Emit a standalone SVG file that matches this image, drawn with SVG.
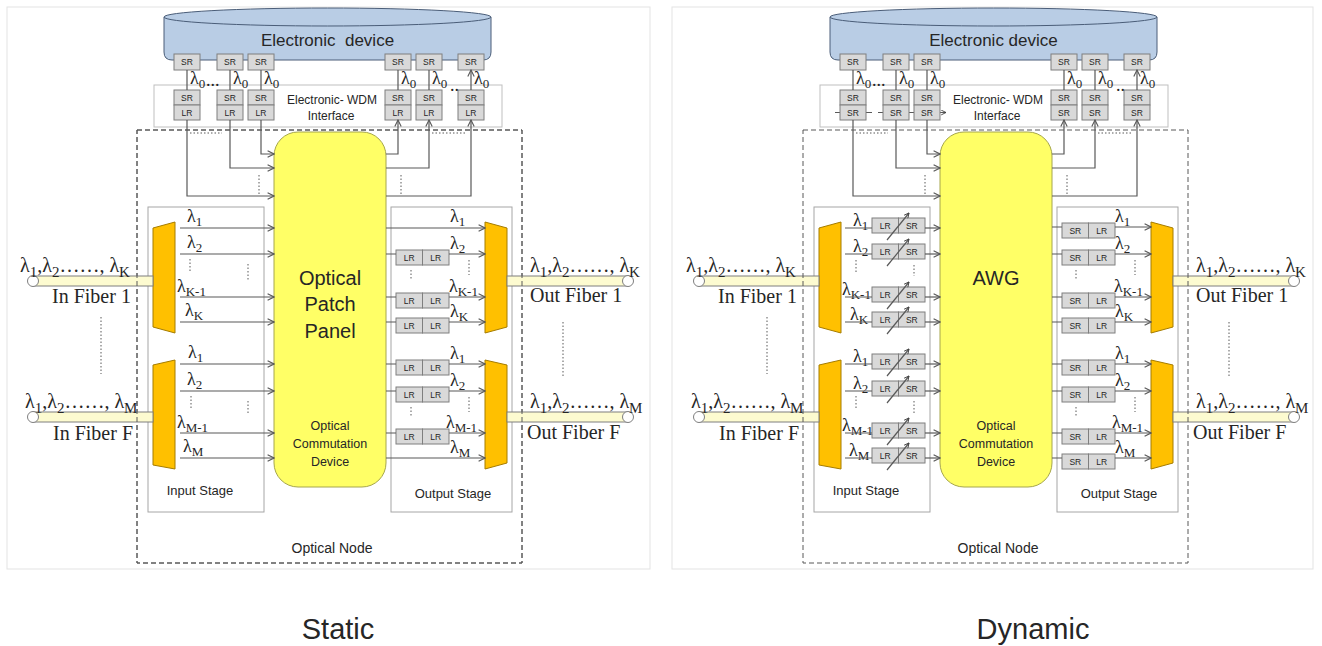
<svg xmlns="http://www.w3.org/2000/svg" width="1322" height="646" viewBox="0 0 1322 646">
<style>
.ln{stroke:#595959;stroke-width:1.2;fill:none}
.ar{marker-end:url(#ah)}
.ar2{marker-end:url(#ah2)}
.dot{stroke:#595959;stroke-width:1;stroke-dasharray:1.5 2;fill:none}
.box{fill:#d9d9d9;stroke:#7f7f7f;stroke-width:1}
.bt{font-family:"Liberation Sans",Arial,sans-serif;font-size:8.5px;fill:#262626;text-anchor:middle}
.sans{font-family:"Liberation Sans",Arial,sans-serif;fill:#262626;text-anchor:middle}
.fl{font-family:"Liberation Serif","Times New Roman",serif;font-size:20px;fill:#262626}
.fs{font-size:15px}
.lam{font-family:"Liberation Serif","Times New Roman",serif;font-size:18px;fill:#262626}
.s{font-size:13px}
.mux{fill:#ffc000;stroke:#a57c00;stroke-width:1}
.fiber{fill:#fdfbd0;stroke:#7f7f7f;stroke-width:1}
.fend{fill:#fff;stroke:#7f7f7f;stroke-width:1}
.stage{fill:none;stroke:#a6a6a6;stroke-width:1}
.frame{fill:#fff;stroke:#e3e3e3;stroke-width:1}
.cyl{fill:#b9cde5;stroke:#4a5d78;stroke-width:1}
.panel{fill:#ffff66;stroke:#a6a64d;stroke-width:1}
.node{fill:none;stroke:#595959;stroke-width:1;stroke-dasharray:5 3}
.ifc{fill:#fff;stroke:#bfbfbf;stroke-width:1}
</style>
<defs>
<marker id="ah" viewBox="0 0 10 10" refX="9" refY="5" markerWidth="8" markerHeight="8" markerUnits="userSpaceOnUse" orient="auto"><path d="M1,1 L9,5 L1,9" fill="none" stroke="#595959" stroke-width="1.4"/></marker>
<marker id="ah2" viewBox="0 0 10 10" refX="9" refY="5" markerWidth="6" markerHeight="6" markerUnits="userSpaceOnUse" orient="auto"><path d="M1,1 L9,5 L1,9" fill="none" stroke="#404040" stroke-width="1.5"/></marker>
</defs>
<rect width="1322" height="646" fill="#fff"/>

<!-- ================= STATIC ================= -->
<g id="static">
<rect class="frame" x="7" y="7" width="643" height="562"/>

<g id="s-electronic-device">
<path class="cyl" d="M164,17 V52 Q164,60 172,60 H483 Q491,60 491,52 V17 Z"/>
<ellipse class="cyl" cx="327.5" cy="17" rx="163.5" ry="9"/>
<text class="sans" x="327.5" y="46" font-size="17" xml:space="preserve">Electronic  device</text>
<rect class="box" x="174" y="54" width="26" height="16"/><text class="bt" x="187" y="65">SR</text>
<rect class="box" x="217" y="54" width="26" height="16"/><text class="bt" x="230" y="65">SR</text>
<rect class="box" x="248" y="54" width="26" height="16"/><text class="bt" x="261" y="65">SR</text>
<rect class="box" x="385" y="54" width="26" height="16"/><text class="bt" x="398" y="65">SR</text>
<rect class="box" x="416" y="54" width="26" height="16"/><text class="bt" x="429" y="65">SR</text>
<rect class="box" x="458" y="54" width="26" height="16"/><text class="bt" x="471" y="65">SR</text>
</g>

<g id="s-interface">
<rect class="ifc" x="154" y="85" width="348" height="42"/>
<text class="sans" x="332" y="104" font-size="12">Electronic- WDM</text>
<text class="sans" x="331" y="120" font-size="12">Interface</text>
<rect class="box" x="174" y="90" width="26" height="15"/><text class="bt" x="187" y="100.5">SR</text>
<rect class="box" x="174" y="105" width="26" height="15"/><text class="bt" x="187" y="115.5">LR</text>
<rect class="box" x="217" y="90" width="26" height="15"/><text class="bt" x="230" y="100.5">SR</text>
<rect class="box" x="217" y="105" width="26" height="15"/><text class="bt" x="230" y="115.5">LR</text>
<rect class="box" x="248" y="90" width="26" height="15"/><text class="bt" x="261" y="100.5">SR</text>
<rect class="box" x="248" y="105" width="26" height="15"/><text class="bt" x="261" y="115.5">LR</text>
<rect class="box" x="385" y="90" width="26" height="15"/><text class="bt" x="398" y="100.5">SR</text>
<rect class="box" x="385" y="105" width="26" height="15"/><text class="bt" x="398" y="115.5">LR</text>
<rect class="box" x="416" y="90" width="26" height="15"/><text class="bt" x="429" y="100.5">SR</text>
<rect class="box" x="416" y="105" width="26" height="15"/><text class="bt" x="429" y="115.5">LR</text>
<rect class="box" x="458" y="90" width="26" height="15"/><text class="bt" x="471" y="100.5">SR</text>
<rect class="box" x="458" y="105" width="26" height="15"/><text class="bt" x="471" y="115.5">LR</text>
<text class="lam" x="206" y="86" font-size="12">...</text>
<text class="lam" x="450" y="91" font-size="11">..</text>
</g>

<g id="s-optical-node">
<rect class="node" x="137" y="130" width="385" height="433"/>
<text class="sans" x="332" y="553" font-size="14">Optical Node</text>
<path class="dot" d="M190,133 H222 M432,133 H465"/>
</g>

<g id="s-patch-panel">
<rect class="panel" x="274" y="132" width="112" height="355" rx="24"/>
<text class="sans" x="330" y="285" font-size="20">Optical</text>
<text class="sans" x="330" y="311" font-size="20">Patch</text>
<text class="sans" x="330" y="338" font-size="20">Panel</text>
<text class="sans" x="330" y="430" font-size="12.5">Optical</text>
<text class="sans" x="330" y="448" font-size="12.5">Commutation</text>
<text class="sans" x="330" y="466" font-size="12.5">Device</text>
</g>

<g id="s-input-stage">
<rect class="stage" x="148" y="207" width="116" height="305"/>
<polygon class="mux" points="153,228 175,222 175,333 153,327"/>
<polygon class="mux" points="153,365 175,360 175,469 153,465"/>
<text class="sans" x="200" y="495" font-size="13">Input Stage</text>
<path class="dot" d="M190,259 V271 M248,264 V280 M191,396 V408 M248,401 V413"/>
<text class="lam" x="187" y="222">λ<tspan class="s" dy="4">1</tspan></text>
<text class="lam" x="187" y="248">λ<tspan class="s" dy="4">2</tspan></text>
<text class="lam" x="177" y="292">λ<tspan class="s" dy="4">K-1</tspan></text>
<text class="lam" x="185" y="316">λ<tspan class="s" dy="4">K</tspan></text>
<text class="lam" x="188" y="358">λ<tspan class="s" dy="4">1</tspan></text>
<text class="lam" x="187" y="385">λ<tspan class="s" dy="4">2</tspan></text>
<text class="lam" x="177" y="428">λ<tspan class="s" dy="4">M-1</tspan></text>
<text class="lam" x="183" y="452">λ<tspan class="s" dy="4">M</tspan></text>
</g>

<g id="s-output-stage">
<rect class="stage" x="391" y="207" width="121" height="305"/>
<polygon class="mux" points="485,222 507,228 507,327 485,333"/>
<polygon class="mux" points="485,360 507,365 507,463 485,469"/>
<text class="sans" x="453" y="498" font-size="13">Output Stage</text>
<path class="dot" d="M411,270 V280 M469,260 V275 M411,407 V417 M469,397 V412"/>
<rect class="box" x="396" y="250" width="26.5" height="15"/><text class="bt" x="409.3" y="261">LR</text>
<rect class="box" x="422.5" y="250" width="26.5" height="15"/><text class="bt" x="435.8" y="261">LR</text>
<rect class="box" x="396" y="293" width="26.5" height="15"/><text class="bt" x="409.3" y="304">LR</text>
<rect class="box" x="422.5" y="293" width="26.5" height="15"/><text class="bt" x="435.8" y="304">LR</text>
<rect class="box" x="396" y="318" width="26.5" height="15"/><text class="bt" x="409.3" y="329">LR</text>
<rect class="box" x="422.5" y="318" width="26.5" height="15"/><text class="bt" x="435.8" y="329">LR</text>
<rect class="box" x="396" y="360" width="26.5" height="15"/><text class="bt" x="409.3" y="371">LR</text>
<rect class="box" x="422.5" y="360" width="26.5" height="15"/><text class="bt" x="435.8" y="371">LR</text>
<rect class="box" x="396" y="387" width="26.5" height="15"/><text class="bt" x="409.3" y="398">LR</text>
<rect class="box" x="422.5" y="387" width="26.5" height="15"/><text class="bt" x="435.8" y="398">LR</text>
<rect class="box" x="396" y="429" width="26.5" height="15"/><text class="bt" x="409.3" y="440">LR</text>
<rect class="box" x="422.5" y="429" width="26.5" height="15"/><text class="bt" x="435.8" y="440">LR</text>
<text class="lam" x="450" y="222">λ<tspan class="s" dy="4">1</tspan></text>
<text class="lam" x="450" y="249">λ<tspan class="s" dy="4">2</tspan></text>
<text class="lam" x="449" y="292">λ<tspan class="s" dy="4">K-1</tspan></text>
<text class="lam" x="450" y="317">λ<tspan class="s" dy="4">K</tspan></text>
<text class="lam" x="450" y="359">λ<tspan class="s" dy="4">1</tspan></text>
<text class="lam" x="450" y="386">λ<tspan class="s" dy="4">2</tspan></text>
<text class="lam" x="446" y="428">λ<tspan class="s" dy="4">M-1</tspan></text>
<text class="lam" x="450" y="453">λ<tspan class="s" dy="4">M</tspan></text>
</g>

<g id="s-in-fiber-1">
<rect class="fiber" x="33" y="276" width="120" height="10"/>
<circle class="fend" cx="33" cy="281" r="5.5"/>
<text class="fl" x="20" y="272">λ<tspan class="fs" dy="5">1</tspan><tspan dy="-5">,λ</tspan><tspan class="fs" dy="5">2</tspan><tspan dy="-5">……, λ</tspan><tspan class="fs" dy="5">K</tspan></text>
<text class="fl" x="52" y="303" font-size="19">In Fiber 1</text>
</g>
<g id="s-in-fiber-f">
<rect class="fiber" x="33" y="412" width="120" height="10"/>
<circle class="fend" cx="33" cy="417" r="5.5"/>
<text class="fl" x="25" y="408">λ<tspan class="fs" dy="5">1</tspan><tspan dy="-5">,λ</tspan><tspan class="fs" dy="5">2</tspan><tspan dy="-5">……, λ</tspan><tspan class="fs" dy="5">M</tspan></text>
<text class="fl" x="53" y="440" font-size="19">In Fiber F</text>
</g>
<g id="s-out-fiber-1">
<rect class="fiber" x="507" y="276" width="121" height="10"/>
<circle class="fend" cx="628" cy="281" r="5.5"/>
<text class="fl" x="530" y="272">λ<tspan class="fs" dy="5">1</tspan><tspan dy="-5">,λ</tspan><tspan class="fs" dy="5">2</tspan><tspan dy="-5">……, λ</tspan><tspan class="fs" dy="5">K</tspan></text>
<text class="fl" x="530" y="302" font-size="19">Out Fiber 1</text>
</g>
<g id="s-out-fiber-f">
<rect class="fiber" x="507" y="412" width="121" height="10"/>
<circle class="fend" cx="628" cy="417" r="5.5"/>
<text class="fl" x="530" y="408">λ<tspan class="fs" dy="5">1</tspan><tspan dy="-5">,λ</tspan><tspan class="fs" dy="5">2</tspan><tspan dy="-5">……, λ</tspan><tspan class="fs" dy="5">M</tspan></text>
<text class="fl" x="527" y="439" font-size="19">Out Fiber F</text>
</g>
<path class="dot" d="M101,317 V374 M563,322 V378"/>
<rect class="node" x="137" y="130" width="385" height="433" style="fill:none"/>

<g id="s-connectors">
<path class="ln" d="M187,70 V90 M230,70 V90 M261,70 V90"/>
<path class="ln ar" d="M398,90 V70 M429,90 V70 M471,90 V70"/>
<text class="lam" x="190" y="84">λ<tspan class="s" dy="4">0</tspan></text>
<text class="lam" x="233" y="84">λ<tspan class="s" dy="4">0</tspan></text>
<text class="lam" x="264" y="84">λ<tspan class="s" dy="4">0</tspan></text>
<text class="lam" x="401" y="84">λ<tspan class="s" dy="4">0</tspan></text>
<text class="lam" x="432" y="84">λ<tspan class="s" dy="4">0</tspan></text>
<text class="lam" x="474" y="84">λ<tspan class="s" dy="4">0</tspan></text>
<path class="ln ar" d="M187,120 V196 H274"/>
<path class="ln ar" d="M230,120 V168 H274"/>
<path class="ln ar" d="M261,120 V154 H274"/>
<path class="ln ar" d="M386,154 H398 V120"/>
<path class="ln ar" d="M386,168 H429 V120"/>
<path class="ln ar" d="M386,196 H471 V120"/>
<path class="dot" d="M259,175 V195 M401,175 V195"/>
<path class="ln ar" d="M180,228 H274"/>
<path class="ln ar" d="M180,254 H274"/>
<path class="ln ar" d="M180,297 H274"/>
<path class="ln ar" d="M180,322 H274"/>
<path class="ln ar" d="M180,364 H274"/>
<path class="ln ar" d="M180,391 H274"/>
<path class="ln ar" d="M180,433 H274"/>
<path class="ln ar" d="M180,458 H274"/>
<path class="ln ar" d="M386,228 H485"/>
<path class="ln" d="M386,254 H396 M386,297 H396 M386,322 H396 M386,364 H396 M386,391 H396 M386,433 H396"/>
<path class="ln ar" d="M449,254 H485"/>
<path class="ln ar" d="M449,297 H485"/>
<path class="ln ar" d="M449,322 H485"/>
<path class="ln ar" d="M449,364 H485"/>
<path class="ln ar" d="M449,391 H485"/>
<path class="ln ar" d="M449,433 H485"/>
<path class="ln ar" d="M386,458 H485"/>
</g>
</g>

<!-- ================= DYNAMIC ================= -->
<g id="dynamic" transform="translate(666,0)">
<rect class="frame" x="6" y="7" width="641" height="562"/>

<g id="d-electronic-device">
<path class="cyl" d="M164,17 V52 Q164,60 172,60 H483 Q491,60 491,52 V17 Z"/>
<ellipse class="cyl" cx="327.5" cy="17" rx="163.5" ry="9"/>
<text class="sans" x="327.5" y="46" font-size="17">Electronic device</text>
<rect class="box" x="174" y="54" width="26" height="16"/><text class="bt" x="187" y="65">SR</text>
<rect class="box" x="217" y="54" width="26" height="16"/><text class="bt" x="230" y="65">SR</text>
<rect class="box" x="248" y="54" width="26" height="16"/><text class="bt" x="261" y="65">SR</text>
<rect class="box" x="385" y="54" width="26" height="16"/><text class="bt" x="398" y="65">SR</text>
<rect class="box" x="416" y="54" width="26" height="16"/><text class="bt" x="429" y="65">SR</text>
<rect class="box" x="458" y="54" width="26" height="16"/><text class="bt" x="471" y="65">SR</text>
</g>

<g id="d-interface">
<rect class="ifc" x="154" y="85" width="348" height="42"/>
<text class="sans" x="332" y="104" font-size="12">Electronic- WDM</text>
<text class="sans" x="331" y="120" font-size="12">Interface</text>
<path class="ln ar2" d="M169,112.5 H206 M212,112.5 H247 M243,112.5 H280"/>
<rect class="box" x="174" y="90" width="26" height="15"/><text class="bt" x="187" y="100.5">SR</text>
<rect class="box" x="174" y="105" width="26" height="15"/><text class="bt" x="187" y="115.5">SR</text>
<rect class="box" x="217" y="90" width="26" height="15"/><text class="bt" x="230" y="100.5">SR</text>
<rect class="box" x="217" y="105" width="26" height="15"/><text class="bt" x="230" y="115.5">SR</text>
<rect class="box" x="248" y="90" width="26" height="15"/><text class="bt" x="261" y="100.5">SR</text>
<rect class="box" x="248" y="105" width="26" height="15"/><text class="bt" x="261" y="115.5">SR</text>
<rect class="box" x="385" y="90" width="26" height="15"/><text class="bt" x="398" y="100.5">SR</text>
<rect class="box" x="385" y="105" width="26" height="15"/><text class="bt" x="398" y="115.5">SR</text>
<rect class="box" x="416" y="90" width="26" height="15"/><text class="bt" x="429" y="100.5">SR</text>
<rect class="box" x="416" y="105" width="26" height="15"/><text class="bt" x="429" y="115.5">SR</text>
<rect class="box" x="458" y="90" width="26" height="15"/><text class="bt" x="471" y="100.5">SR</text>
<rect class="box" x="458" y="105" width="26" height="15"/><text class="bt" x="471" y="115.5">SR</text>
<text class="lam" x="206" y="86" font-size="12">...</text>
<text class="lam" x="450" y="91" font-size="11">..</text>
</g>

<g id="d-optical-node">
<text class="sans" x="332" y="553" font-size="14">Optical Node</text>
<path class="dot" d="M190,133 H222 M432,133 H465"/>
</g>

<g id="d-awg">
<rect class="panel" x="274" y="132" width="112" height="355" rx="24"/>
<text class="sans" x="330" y="285" font-size="20">AWG</text>
<text class="sans" x="330" y="430" font-size="12.5">Optical</text>
<text class="sans" x="330" y="448" font-size="12.5">Commutation</text>
<text class="sans" x="330" y="466" font-size="12.5">Device</text>
</g>

<g id="d-input-stage">
<rect class="stage" x="148" y="207" width="116" height="305"/>
<polygon class="mux" points="153,228 175,222 175,333 153,327"/>
<polygon class="mux" points="153,365 175,360 175,469 153,465"/>
<text class="sans" x="200" y="495" font-size="13">Input Stage</text>
<path class="dot" d="M190,260 V272 M248,265 V276 M190,396 V408 M248,401 V413"/>
<rect class="box" x="206" y="218" width="26.5" height="15"/><rect class="box" x="232.5" y="218" width="26.5" height="15"/>
<rect class="box" x="206" y="244" width="26.5" height="15"/><rect class="box" x="232.5" y="244" width="26.5" height="15"/>
<rect class="box" x="206" y="287" width="26.5" height="15"/><rect class="box" x="232.5" y="287" width="26.5" height="15"/>
<rect class="box" x="206" y="312" width="26.5" height="15"/><rect class="box" x="232.5" y="312" width="26.5" height="15"/>
<rect class="box" x="206" y="354" width="26.5" height="15"/><rect class="box" x="232.5" y="354" width="26.5" height="15"/>
<rect class="box" x="206" y="381" width="26.5" height="15"/><rect class="box" x="232.5" y="381" width="26.5" height="15"/>
<rect class="box" x="206" y="423" width="26.5" height="15"/><rect class="box" x="232.5" y="423" width="26.5" height="15"/>
<rect class="box" x="206" y="448" width="26.5" height="15"/><rect class="box" x="232.5" y="448" width="26.5" height="15"/>
<text class="bt" x="219.3" y="229">LR</text><text class="bt" x="245.8" y="229">SR</text>
<text class="bt" x="219.3" y="255">LR</text><text class="bt" x="245.8" y="255">SR</text>
<text class="bt" x="219.3" y="298">LR</text><text class="bt" x="245.8" y="298">SR</text>
<text class="bt" x="219.3" y="323">LR</text><text class="bt" x="245.8" y="323">SR</text>
<text class="bt" x="219.3" y="365">LR</text><text class="bt" x="245.8" y="365">SR</text>
<text class="bt" x="219.3" y="392">LR</text><text class="bt" x="245.8" y="392">SR</text>
<text class="bt" x="219.3" y="434">LR</text><text class="bt" x="245.8" y="434">SR</text>
<text class="bt" x="219.3" y="459">LR</text><text class="bt" x="245.8" y="459">SR</text>
<path class="ln ar2" d="M221,240 L243,213"/>
<path class="ln ar2" d="M221,266 L243,239"/>
<path class="ln ar2" d="M221,309 L243,282"/>
<path class="ln ar2" d="M221,334 L243,307"/>
<path class="ln ar2" d="M221,376 L243,349"/>
<path class="ln ar2" d="M221,403 L243,376"/>
<path class="ln ar2" d="M221,445 L243,418"/>
<path class="ln ar2" d="M221,470 L243,443"/>
<text class="lam" x="187" y="226">λ<tspan class="s" dy="4">1</tspan></text>
<text class="lam" x="187" y="252">λ<tspan class="s" dy="4">2</tspan></text>
<text class="lam" x="176" y="295">λ<tspan class="s" dy="4">K-1</tspan></text>
<text class="lam" x="184" y="320">λ<tspan class="s" dy="4">K</tspan></text>
<text class="lam" x="187" y="362">λ<tspan class="s" dy="4">1</tspan></text>
<text class="lam" x="187" y="389">λ<tspan class="s" dy="4">2</tspan></text>
<text class="lam" x="176" y="431">λ<tspan class="s" dy="4">M-1</tspan></text>
<text class="lam" x="183" y="456">λ<tspan class="s" dy="4">M</tspan></text>
</g>

<g id="d-output-stage">
<rect class="stage" x="391" y="207" width="121" height="305"/>
<polygon class="mux" points="485,222 507,228 507,327 485,333"/>
<polygon class="mux" points="485,360 507,365 507,463 485,469"/>
<text class="sans" x="453" y="498" font-size="13">Output Stage</text>
<path class="dot" d="M410,270 V280 M469,260 V275 M410,407 V417 M469,397 V412"/>
<rect class="box" x="396" y="223" width="26.5" height="15"/><rect class="box" x="422.5" y="223" width="26.5" height="15"/>
<rect class="box" x="396" y="250" width="26.5" height="15"/><rect class="box" x="422.5" y="250" width="26.5" height="15"/>
<rect class="box" x="396" y="293" width="26.5" height="15"/><rect class="box" x="422.5" y="293" width="26.5" height="15"/>
<rect class="box" x="396" y="318" width="26.5" height="15"/><rect class="box" x="422.5" y="318" width="26.5" height="15"/>
<rect class="box" x="396" y="360" width="26.5" height="15"/><rect class="box" x="422.5" y="360" width="26.5" height="15"/>
<rect class="box" x="396" y="387" width="26.5" height="15"/><rect class="box" x="422.5" y="387" width="26.5" height="15"/>
<rect class="box" x="396" y="429" width="26.5" height="15"/><rect class="box" x="422.5" y="429" width="26.5" height="15"/>
<rect class="box" x="396" y="454" width="26.5" height="15"/><rect class="box" x="422.5" y="454" width="26.5" height="15"/>
<text class="bt" x="409.3" y="234">SR</text><text class="bt" x="435.8" y="234">LR</text>
<text class="bt" x="409.3" y="261">SR</text><text class="bt" x="435.8" y="261">LR</text>
<text class="bt" x="409.3" y="304">SR</text><text class="bt" x="435.8" y="304">LR</text>
<text class="bt" x="409.3" y="329">SR</text><text class="bt" x="435.8" y="329">LR</text>
<text class="bt" x="409.3" y="371">SR</text><text class="bt" x="435.8" y="371">LR</text>
<text class="bt" x="409.3" y="398">SR</text><text class="bt" x="435.8" y="398">LR</text>
<text class="bt" x="409.3" y="440">SR</text><text class="bt" x="435.8" y="440">LR</text>
<text class="bt" x="409.3" y="465">SR</text><text class="bt" x="435.8" y="465">LR</text>
<text class="lam" x="449" y="222">λ<tspan class="s" dy="4">1</tspan></text>
<text class="lam" x="449" y="249">λ<tspan class="s" dy="4">2</tspan></text>
<text class="lam" x="448" y="292">λ<tspan class="s" dy="4">K-1</tspan></text>
<text class="lam" x="449" y="317">λ<tspan class="s" dy="4">K</tspan></text>
<text class="lam" x="449" y="359">λ<tspan class="s" dy="4">1</tspan></text>
<text class="lam" x="449" y="386">λ<tspan class="s" dy="4">2</tspan></text>
<text class="lam" x="446" y="428">λ<tspan class="s" dy="4">M-1</tspan></text>
<text class="lam" x="449" y="453">λ<tspan class="s" dy="4">M</tspan></text>
</g>

<g id="d-in-fiber-1">
<rect class="fiber" x="33" y="276" width="120" height="10"/>
<circle class="fend" cx="33" cy="281" r="5.5"/>
<text class="fl" x="20" y="272">λ<tspan class="fs" dy="5">1</tspan><tspan dy="-5">,λ</tspan><tspan class="fs" dy="5">2</tspan><tspan dy="-5">……, λ</tspan><tspan class="fs" dy="5">K</tspan></text>
<text class="fl" x="52" y="303" font-size="19">In Fiber 1</text>
</g>
<g id="d-in-fiber-f">
<rect class="fiber" x="33" y="412" width="120" height="10"/>
<circle class="fend" cx="33" cy="417" r="5.5"/>
<text class="fl" x="25" y="408">λ<tspan class="fs" dy="5">1</tspan><tspan dy="-5">,λ</tspan><tspan class="fs" dy="5">2</tspan><tspan dy="-5">……, λ</tspan><tspan class="fs" dy="5">M</tspan></text>
<text class="fl" x="53" y="440" font-size="19">In Fiber F</text>
</g>
<g id="d-out-fiber-1">
<rect class="fiber" x="507" y="276" width="121" height="10"/>
<circle class="fend" cx="628" cy="281" r="5.5"/>
<text class="fl" x="530" y="272">λ<tspan class="fs" dy="5">1</tspan><tspan dy="-5">,λ</tspan><tspan class="fs" dy="5">2</tspan><tspan dy="-5">……, λ</tspan><tspan class="fs" dy="5">K</tspan></text>
<text class="fl" x="530" y="302" font-size="19">Out Fiber 1</text>
</g>
<g id="d-out-fiber-f">
<rect class="fiber" x="507" y="412" width="121" height="10"/>
<circle class="fend" cx="628" cy="417" r="5.5"/>
<text class="fl" x="530" y="408">λ<tspan class="fs" dy="5">1</tspan><tspan dy="-5">,λ</tspan><tspan class="fs" dy="5">2</tspan><tspan dy="-5">……, λ</tspan><tspan class="fs" dy="5">M</tspan></text>
<text class="fl" x="527" y="439" font-size="19">Out Fiber F</text>
</g>
<path class="dot" d="M101,317 V374 M563,322 V378"/>
<rect class="node" x="137" y="130" width="385" height="433"/>

<g id="d-connectors">
<path class="ln" d="M187,70 V90 M230,70 V90 M261,70 V90"/>
<path class="ln ar" d="M398,90 V70 M429,90 V70 M471,90 V70"/>
<text class="lam" x="190" y="84">λ<tspan class="s" dy="4">0</tspan></text>
<text class="lam" x="233" y="84">λ<tspan class="s" dy="4">0</tspan></text>
<text class="lam" x="264" y="84">λ<tspan class="s" dy="4">0</tspan></text>
<text class="lam" x="401" y="84">λ<tspan class="s" dy="4">0</tspan></text>
<text class="lam" x="432" y="84">λ<tspan class="s" dy="4">0</tspan></text>
<text class="lam" x="474" y="84">λ<tspan class="s" dy="4">0</tspan></text>
<path class="ln ar" d="M187,120 V196 H274"/>
<path class="ln ar" d="M230,120 V168 H274"/>
<path class="ln ar" d="M261,120 V154 H274"/>
<path class="ln ar" d="M386,154 H398 V120"/>
<path class="ln ar" d="M386,168 H429 V120"/>
<path class="ln ar" d="M386,196 H471 V120"/>
<path class="dot" d="M259,175 V195 M401,175 V195"/>
<path class="ln" d="M179,228 H206 M179,254 H206 M179,297 H206 M179,322 H206 M179,364 H206 M179,391 H206 M179,433 H206 M179,458 H206"/>
<path class="ln ar" d="M259,228 H274"/>
<path class="ln ar" d="M259,254 H274"/>
<path class="ln ar" d="M259,297 H274"/>
<path class="ln ar" d="M259,322 H274"/>
<path class="ln ar" d="M259,364 H274"/>
<path class="ln ar" d="M259,391 H274"/>
<path class="ln ar" d="M259,433 H274"/>
<path class="ln ar" d="M259,458 H274"/>
<path class="ln" d="M386,227 H396 M386,254 H396 M386,297 H396 M386,322 H396 M386,364 H396 M386,391 H396 M386,433 H396 M386,458 H396"/>
<path class="ln ar" d="M449,227 H485"/>
<path class="ln ar" d="M449,254 H485"/>
<path class="ln ar" d="M449,297 H485"/>
<path class="ln ar" d="M449,322 H485"/>
<path class="ln ar" d="M449,364 H485"/>
<path class="ln ar" d="M449,391 H485"/>
<path class="ln ar" d="M449,433 H485"/>
<path class="ln ar" d="M449,458 H485"/>
</g>
</g>

<g id="titles">
<text class="sans" x="338" y="639" font-size="29">Static</text>
<text class="sans" x="1033" y="639" font-size="29">Dynamic</text>
</g>
</svg>
